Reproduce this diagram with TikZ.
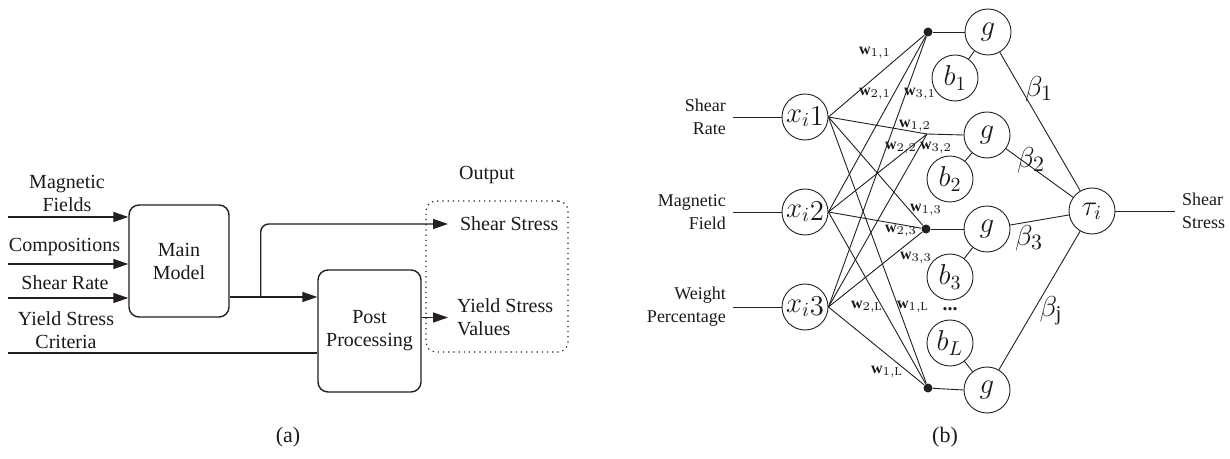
\documentclass[tikz,border=0pt]{standalone}
\usepackage{fontspec}
\setmainfont{Liberation Serif}
\usepackage{amsmath}
\usetikzlibrary{arrows.meta,calc}
\definecolor{lineDark}{HTML}{231F20}
\definecolor{textDark}{HTML}{1A1A1A}

\begin{document}
\begin{tikzpicture}[x=0.5pt,y=-0.5pt,
  every node/.style={text=textDark,font=\fontsize{10}{11.5}\selectfont},
  blok/.style={draw=lineDark,line width=0.7pt,rounded corners=5pt,align=center},
  ok/.style={draw=lineDark,line width=0.7pt,-{Triangle[length=7.5pt,width=5pt]}},
  wire/.style={draw=lineDark,line width=0.45pt},
  neuron/.style={circle,draw=lineDark,line width=0.45pt,inner sep=0pt,minimum size=23pt,font=\fontsize{14.5}{16}\selectfont},
  dot/.style={circle,fill=lineDark,inner sep=0pt,minimum size=4.5pt},
  wlbl/.style={font=\fontsize{8}{9}\selectfont,inner sep=0pt},
  blbl/.style={font=\fontsize{15}{17}\selectfont,inner sep=0pt},
  inlbl/.style={font=\fontsize{9}{11.5}\selectfont,align=right,anchor=east}]
\useasboundingbox (0,0) rectangle (1230,459);
% (a) model chain
\begin{scope}
\node[blok,minimum width=50pt,minimum height=56pt] (mainModel) at (179,261) {Main\\Model};
\node[blok,minimum width=51.5pt,minimum height=61pt] (postProc) at (369.5,331) {Post\\Processing};
\node[draw=lineDark,dotted,line width=0.6pt,rounded corners=5pt,minimum width=71pt,minimum height=75.5pt] (outBox) at (497,276.5) {};
\node (outLbl) at (487,175) {Output};
\node[anchor=west] (ssLbl) at (453,224) {Shear Stress};
\node[anchor=west,align=left] (ysLbl) at (450,317.5) {Yield Stress\\Values};
% inputs
\coordinate (inMag) at (8,217);
\coordinate (inComp) at (8,264);
\coordinate (inShear) at (8,298);
\coordinate (inYield) at (8,353);
\node[align=center] (magLbl) at (67,193.5) {Magnetic\\Fields};
\node (compLbl) at (64.5,247) {Compositions};
\node (srLbl) at (65,283) {Shear Rate};
\node[align=center] (ycLbl) at (66,330.5) {Yield Stress\\Criteria};
\draw[ok] (inMag) -- (inMag -| mainModel.west);
\draw[ok] (inComp) -- (inComp -| mainModel.west);
\draw[ok] (inShear) -- (inShear -| mainModel.west);
\draw[draw=lineDark,line width=0.7pt] (inYield) -- (inYield -| postProc.west);
% outputs
\coordinate (mmOut) at ([yshift=-18pt]mainModel.east);
\coordinate (branch) at ($(mmOut)+(31,0)$);
\draw[ok] (mmOut) -- (mmOut -| postProc.west);
\draw[ok,rounded corners=4pt] (branch) |- ([xshift=-2.5pt]ssLbl.west);
\draw[ok] (ysLbl.west -| postProc.east) -- ([xshift=-1pt]ysLbl.west);
\node[font=\fontsize{11}{13}\selectfont] (capA) at (288,437) {(a)};
\end{scope}
% (b) network
\begin{scope}
\node[neuron] (x1) at (805,117) {$x_{i}\lower1.5pt\hbox{$1$}$};
\node[neuron] (x2) at (805,212) {$x_{i}\lower1.5pt\hbox{$2$}$};
\node[neuron] (x3) at (805,307) {$x_{i}\lower1.5pt\hbox{$3$}$};
\node[dot] (j1) at (928,32) {};
\coordinate (j2) at (927,134);
\node[dot] (j3) at (926,229) {};
\node[dot] (j4) at (928,388) {};
\node[neuron] (g1) at (988,32) {$g$};
\node[neuron] (g2) at (987,135) {$g$};
\node[neuron] (g3) at (987,229) {$g$};
\node[neuron] (g4) at (987,390) {$g$};
\node[neuron] (b1) at (955,78) {$b_1$};
\node[neuron] (b2) at (950,179) {$b_2$};
\node[neuron] (b3) at (950,277) {$b_3$};
\node[neuron] (bL) at (950,343) {$b_L$};
\node[font=\fontsize{10}{11}\bfseries\selectfont,inner sep=0pt] (bdots) at (950,309) {...};
\node[neuron] (tau) at (1092,211) {$\tau_i$};
% inputs and output
\coordinate (inSR) at (733,117);
\coordinate (inMF) at (733,212);
\coordinate (inWP) at (733,307);
\coordinate (tauOut) at (1175,211);
\node[inlbl] (srText) at (inSR) {Shear\\Rate};
\node[inlbl] (mfText) at (inMF) {Magnetic\\Field};
\node[inlbl] (wpText) at (inWP) {Weight\\Percentage};
\node[font=\fontsize{9}{11.5}\selectfont,align=left,anchor=west] (ssText) at (tauOut) {Shear\\Stress};
\draw[wire] (inSR) -- (x1.west);
\draw[wire] (inMF) -- (x2.west);
\draw[wire] (inWP) -- (x3.west);
\draw[wire] (tau.east) -- (tauOut);
% weights
\foreach \k in {1,2,3}
  \foreach \m in {1,2,3,4}
    \draw[wire] (x\k.east) -- (j\m);
\foreach \m in {1,2,3,4}
  \draw[wire] (j\m) -- (g\m.west);
\draw[wire] (b1) -- (g1);
\draw[wire] (b2) -- (g2);
\draw[wire] (b3) -- (g3);
\draw[wire] (bL) -- (g4);
\foreach \m in {1,2,3,4}
  \draw[wire] (g\m) -- (tau);
\node[wlbl] (w11) at (875,53) {$\mathbf{w}_{1,1}$};
\node[wlbl] (w21) at (875,94) {$\mathbf{w}_{2,1}$};
\node[wlbl] (w31) at (920,94) {$\mathbf{w}_{3,1}$};
\node[wlbl] (w12) at (915,126) {$\mathbf{w}_{1,2}$};
\node[wlbl] (w22) at (901,148) {$\mathbf{w}_{2,2}$};
\node[wlbl] (w32) at (936,148) {$\mathbf{w}_{3,2}$};
\node[wlbl] (w13) at (926,210) {$\mathbf{w}_{1,3}$};
\node[wlbl] (w23) at (901,231) {$\mathbf{w}_{2,3}$};
\node[wlbl] (w33) at (916,258) {$\mathbf{w}_{3,3}$};
\node[wlbl] (w2L) at (867,307) {$\mathbf{w}_{2,\mathrm{L}}$};
\node[wlbl] (w1L) at (913,307) {$\mathbf{w}_{1,\mathrm{L}}$};
\node[wlbl] (w1Lb) at (887,372) {$\mathbf{w}_{1,\mathrm{L}}$};
\node[blbl] (beta1) at (1039,89) {$\beta_1$};
\node[blbl] (beta2) at (1031,160) {$\beta_2$};
\node[blbl] (beta3) at (1029,238) {$\beta_3$};
\node[blbl] (betaj) at (1051,311) {$\beta_{\mathrm{j}}$};
\node[font=\fontsize{11}{13}\selectfont] (capB) at (945,437) {(b)};
\end{scope}
\end{tikzpicture}
\end{document}
